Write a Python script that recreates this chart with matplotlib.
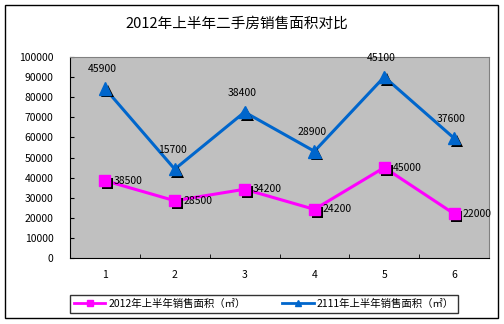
import matplotlib.pyplot as plt
import matplotlib.patheffects as pe
import numpy as np

plt.rcParams['font.family'] = ['Noto Sans CJK SC', 'DejaVu Sans']

months = ['1', '2', '3', '4', '5', '6']
area_2012 = [38500, 28500, 34200, 24200, 45000, 22000]
area_2111 = [45900, 15700, 38400, 28900, 45100, 37600]
yticks = [0, 10000, 20000, 30000, 40000, 50000, 60000, 70000, 80000, 90000, 100000]

x = np.arange(1, len(months) + 1)
stacked = np.array(area_2012) + np.array(area_2111)  # 堆积折线

fig = plt.figure(figsize=(5.04, 3.24), dpi=100)
ax = fig.add_axes([70 / 504, 1 - 258 / 324, 419 / 504, 201 / 324])
ax.set_facecolor('#C0C0C0')

shadow = [pe.SimplePatchShadow(offset=(2, -2), shadow_rgbFace='black', alpha=1), pe.Normal()]

ax.plot(x, area_2012, color='#FF00FF', lw=2.2, zorder=2)
ax.plot(x, stacked, color='#0066CC', lw=2.2, zorder=2)
ax.plot(x, area_2012, ls='none', marker='s', ms=8, color='#FF00FF', mec='#FF00FF',
        path_effects=shadow, zorder=3)
ax.plot(x, stacked, ls='none', marker='^', ms=9, color='#0066CC', mec='#0066CC',
        path_effects=shadow, zorder=3)

for xi, v in zip(x, area_2012):
    ax.annotate(str(v), (xi, v), xytext=(6, 0), textcoords='offset points',
                ha='left', va='center', fontsize=7.5)
for xi, v, s in zip(x, area_2111, stacked):
    ax.annotate(str(v), (xi, s), xytext=(-2, 10), textcoords='offset points',
                ha='center', va='bottom', fontsize=7.5)

# 图例用句柄
l1, = ax.plot([], [], color='#FF00FF', lw=2, marker='s', ms=5)
l2, = ax.plot([], [], color='#0066CC', lw=2, marker='^', ms=5)

ax.set_xlim(0.5, 6.5)
ax.set_ylim(0, 100000)
ax.set_yticks(yticks)
ax.set_yticklabels([str(t) for t in yticks])
ax.set_xticks(x)
ax.set_xticklabels(months)
ax.set_xticks(np.arange(0.5, 7, 1), minor=True)
ax.tick_params(axis='x', which='major', length=0, labelsize=7.5, pad=9)
ax.tick_params(axis='x', which='minor', direction='in', length=3)
ax.tick_params(axis='y', direction='in', length=3, labelsize=7.5, pad=12)

for s in ['top', 'right']:
    ax.spines[s].set_color('#808080')
for s in ['left', 'bottom']:
    ax.spines[s].set_color('black')

fig.text(237 / 504, 1 - 24 / 324, '2012年上半年二手房销售面积对比', ha='center', va='center', fontsize=10.5)

leg = fig.legend([l1, l2], ['2012年上半年销售面积（㎡）', '2111年上半年销售面积（㎡）'],
                 loc='center', bbox_to_anchor=(264 / 504, 1 - 304 / 324), ncol=2,
                 fontsize=7.5, frameon=True, fancybox=False, edgecolor='black',
                 handlelength=3, handletextpad=0.3, columnspacing=3.5, borderpad=0.4)
leg.get_frame().set_linewidth(1)

fig.patches.append(plt.Rectangle((5 / 504, 6 / 324), 493 / 504, 313 / 324, fill=False,
                                 edgecolor='black', lw=1, transform=fig.transFigure))

fig.savefig('out.png', dpi=100)
